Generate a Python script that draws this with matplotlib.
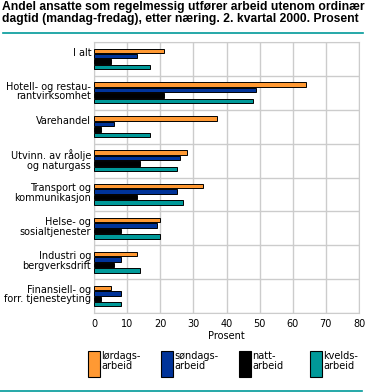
import numpy as np
import matplotlib
matplotlib.use('Agg')
import matplotlib.pyplot as plt
from matplotlib.patches import Rectangle
from matplotlib.lines import Line2D

# data
categories = ["I alt", "Hotell- og restau-\nrantvirksomhet", "Varehandel",
              "Utvinn. av råolje\nog naturgass", "Transport og\nkommunikasjon",
              "Helse- og\nsosialtjenester", "Industri og\nbergverksdrift",
              "Finansiell- og\nforr. tjenesteyting"]
series_names = ["lørdags-\narbeid", "søndags-\narbeid", "natt-\narbeid", "kvelds-\narbeid"]
lordag = [21, 64, 37, 28, 33, 20, 13, 5]
sondag = [13, 49, 6, 26, 25, 19, 8, 8]
natt = [5, 21, 2, 14, 13, 8, 6, 2]
kveld = [17, 48, 17, 25, 27, 20, 14, 8]
colors = ["#FF9933", "#003399", "#000000", "#009999"]
x_ticks = [0, 10, 20, 30, 40, 50, 60, 70, 80]

W, H = 367, 392
fig = plt.figure(figsize=(W / 100, H / 100), dpi=100)
ax = fig.add_axes([94 / W, 1 - 313 / H, (359 - 94) / W, (313 - 42) / H])

series = [lordag, sondag, natt, kveld]
n = len(categories)
y = np.arange(n)
slot = 0.162
bh = 0.13
for i, vals in enumerate(series):
    offs = (i - 1.5) * slot
    ax.barh(y + offs, vals, height=bh, color=colors[i], edgecolor="black", linewidth=0.7, zorder=3)

ax.set_xlim(0, 80)
ax.set_ylim(n - 0.5, -0.5)
ax.set_xticks(x_ticks)
ax.set_xticklabels([str(t) for t in x_ticks], fontsize=7)
ax.set_yticks(y - 0.33)
ax.set_yticklabels(categories, fontsize=7, va="top", linespacing=0.95)
ax.set_yticks(np.arange(n + 1) - 0.5, minor=True)
ax.tick_params(axis="both", which="both", length=0)
ax.tick_params(axis="y", pad=2)
ax.tick_params(axis="x", pad=4)
ax.grid(True, axis="x", which="major", color="#CCCCCC", linewidth=1, zorder=0)
ax.grid(True, axis="y", which="minor", color="#CCCCCC", linewidth=1, zorder=0)
for s in ax.spines.values():
    s.set_color("#CCCCCC")
ax.set_xlabel("Prosent", fontsize=7, labelpad=2)

fig.text(2 / W, 1 - 1 / H,
         "Andel ansatte som regelmessig utfører arbeid utenom ordinær\n"
         "dagtid (mandag-fredag), etter næring. 2. kvartal 2000. Prosent",
         fontsize=8.7, fontweight="bold", family="Liberation Sans",
         va="top", ha="left", linespacing=1.0)
fig.add_artist(Line2D([3 / W, 363 / W], [1 - 33 / H, 1 - 33 / H], color="#009999", linewidth=1.2))
fig.add_artist(Line2D([0, 362 / W], [1 - 391 / H, 1 - 391 / H], color="#009999", linewidth=1.2))

# legend drawn by hand
leg_x = [88, 161, 239, 310]
for i, name in enumerate(series_names):
    fig.add_artist(Rectangle((leg_x[i] / W, 1 - 377 / H), 12 / W, 26 / H,
                             facecolor=colors[i], edgecolor="black", linewidth=0.8,
                             transform=fig.transFigure))
    fig.text((leg_x[i] + 13) / W, 1 - 351 / H, name, fontsize=7, va="top", ha="left",
             linespacing=0.95)

fig.savefig("out.png", dpi=100)
